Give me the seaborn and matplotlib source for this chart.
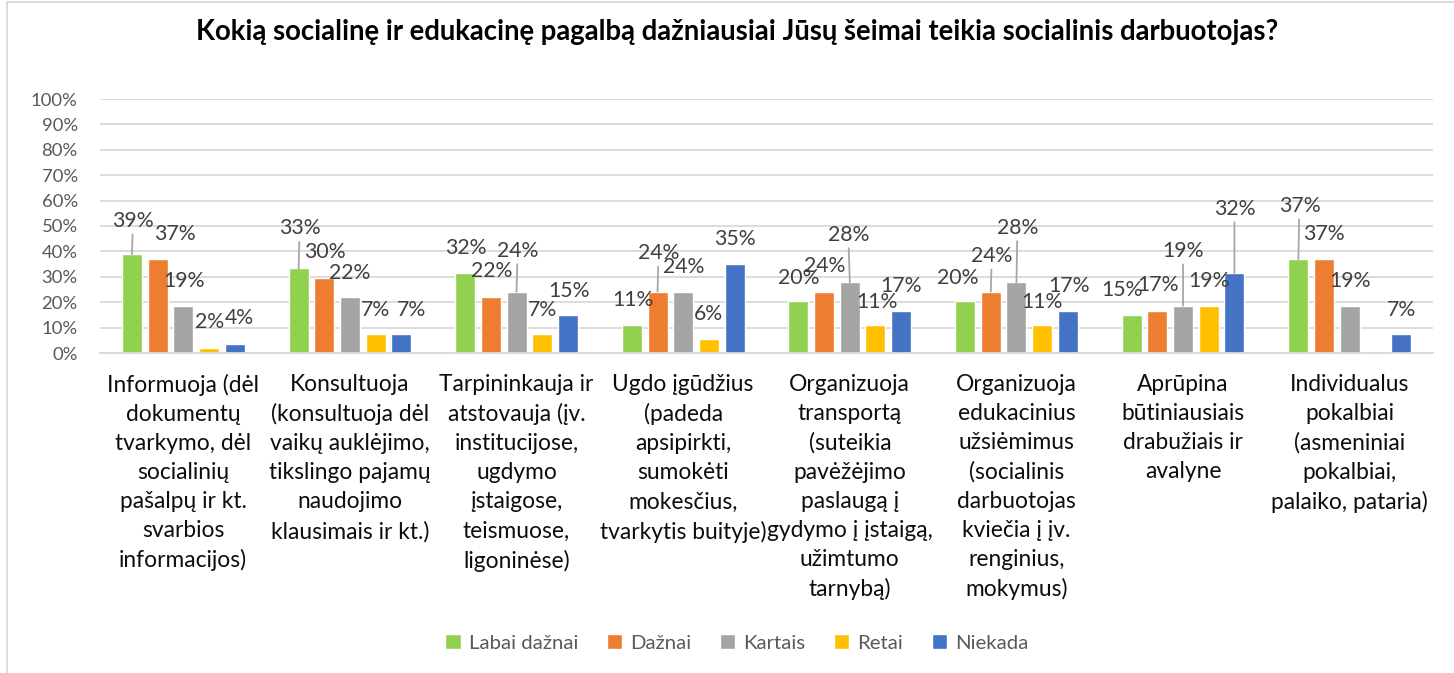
import numpy as np
import pandas as pd
import matplotlib
matplotlib.use("Agg")
import matplotlib.pyplot as plt
import seaborn as sns

# ============================================================================
# DATA
# ============================================================================

categories = [
    "Informuoja (dėl\ndokumentų\ntvarkymo, dėl\nsocialinių\npašalpų ir kt.\nsvarbios\ninformacijos)",
    "Konsultuoja\n(konsultuoja dėl\nvaikų auklėjimo,\ntikslingo pajamų\nnaudojimo\nklausimais ir kt.)",
    "Tarpininkauja ir\natstovauja (įv.\ninstitucijose,\nugdymo\nįstaigose,\nteismuose,\nligoninėse)",
    "Ugdo įgūdžius\n(padeda\napsipirkti,\nsumokėti\nmokesčius,\ntvarkytis buityje)",
    "Organizuoja\ntransportą\n(suteikia\npavėžėjimo\npaslaugą į\ngydymo į įstaigą,\nužimtumo\ntarnybą)",
    "Organizuoja\nedukacinius\nužsiėmimus\n(socialinis\ndarbuotojas\nkviečia į įv.\nrenginius,\nmokymus)",
    "Aprūpina\nbūtiniausiais\ndrabužiais ir\navalyne",
    "Individualus\npokalbiai\n(asmeniniai\npokalbiai,\npalaiko, pataria)",
]

series = ["Labai dažnai", "Dažnai", "Kartais", "Retai", "Niekada"]

labai_daznai = [38.9, 33.3, 31.5, 11.1, 20.4, 20.4, 14.8, 37.0]
daznai = [37.0, 29.6, 22.2, 24.1, 24.1, 24.1, 16.7, 37.0]
kartais = [18.6, 22.2, 24.1, 24.1, 27.8, 27.8, 18.6, 18.6]
retai = [1.9, 7.4, 7.4, 5.6, 11.1, 11.1, 18.6, 0.0]
niekada = [3.7, 7.4, 14.8, 35.2, 16.7, 16.7, 31.5, 7.4]

colors = ["#92D050", "#ED7D31", "#A5A5A5", "#FFC000", "#4472C4"]

# label offsets in pixels (dx, up) per category, per series
label_offsets = [
    [(1, 33), (17, 25.5), (1, 25), (1, 26.5), (5, 25.5)],
    [(1, 40), (1, 26), (0, 24), (0, 24), (10, 24)],
    [(1, 25), (1, 25.5), (1, 41), (0, 24.5), (1, 24.5)],
    [(1, 25), (1, 38.5), (0, 25), (0, 24.5), (0, 24.5)],
    [(0, 23), (1, 25.5), (-1.5, 47.5), (1, 22.5), (0, 24.5)],
    [(-7.5, 23), (1, 35.5), (1, 54.5), (0, 22.5), (1, 24.5)],
    [(-10, 25.5), (1, 25.5), (0, 54.5), (0, 25), (0, 64)],
    [(1, 53), (0, 25), (0, 24.5), (0, 0), (0, 24.5)],
]

values = [labai_daznai, daznai, kartais, retai, niekada]

df = pd.DataFrame({
    "category": np.tile(categories, len(series)),
    "series": np.repeat(series, len(categories)),
    "value": np.concatenate(values),
})

# ============================================================================
# STYLE
# ============================================================================

sns.set_theme(style="white")
plt.rcParams["font.family"] = ["Lato", "DejaVu Sans"]

fig = plt.figure(figsize=(14.54, 6.73), dpi=100)
ax = fig.add_axes([100 / 1454, 1 - 353 / 673, 1333 / 1454, 254 / 673])

sns.barplot(
    data=df,
    x="category",
    y="value",
    hue="series",
    hue_order=series,
    palette=colors,
    width=0.77,
    gap=0.22,
    saturation=1,
    errorbar=None,
    legend=True,
    ax=ax,
)

# ============================================================================
# AXES
# ============================================================================

ax.set_ylim(0, 100)
ax.set_yticks(np.arange(0, 101, 10))
ax.set_yticklabels([f"{t}%" for t in range(0, 101, 10)],
                   fontsize=13.3, color="#595959")
ax.tick_params(axis="y", length=0, pad=16)
ax.tick_params(axis="x", length=0, pad=15)
for lab in ax.get_xticklabels():
    lab.set_fontsize(16.4)
    lab.set_color("#0D0D0D")
    lab.set_linespacing(1.47)

ax.grid(axis="y", color="#D9D9D9", linewidth=1.3)
ax.set_axisbelow(True)
for s in ["top", "right", "left"]:
    ax.spines[s].set_visible(False)
ax.spines["bottom"].set_color("#D9D9D9")
ax.spines["bottom"].set_linewidth(1.3)
ax.set_xlabel("")
ax.set_ylabel("")

# ============================================================================
# DATA LABELS
# ============================================================================

for j, cont in enumerate(ax.containers):
    for i, bar in enumerate(cont):
        v = values[j][i]
        if v == 0:
            continue
        dx, up = label_offsets[i][j]
        x = bar.get_x() + bar.get_width() / 2
        y = bar.get_height()
        arrow = None
        if up > 30:
            arrow = dict(arrowstyle="-", color="#A6A6A6", lw=1.3,
                         shrinkA=0, shrinkB=0)
        ax.annotate(
            f"{v:.0f}%",
            xy=(x, y),
            xytext=(dx, up),
            textcoords="offset pixels",
            ha="center",
            va="center",
            fontsize=15.3,
            color="#404040",
            arrowprops=arrow,
        )

# ============================================================================
# LEGEND / TITLE / BORDER
# ============================================================================

handles, labels = ax.get_legend_handles_labels()
ax.get_legend().remove()
fig.legend(
    handles,
    labels,
    loc="center",
    bbox_to_anchor=(737 / 1454, 1 - 643 / 673),
    ncol=5,
    frameon=False,
    fontsize=14.7,
    labelcolor="#595959",
    handlelength=0.75,
    handleheight=0.75,
    handletextpad=0.4,
    columnspacing=1.4,
)

fig.text(737 / 1454, 1 - 32 / 673,
         "Kokią socialinę ir edukacinę pagalbą dažniausiai Jūsų šeimai teikia socialinis darbuotojas?",
         ha="center", va="center", fontsize=19.8, fontweight="bold", color="#000000")

fig.add_artist(plt.Line2D([7 / 1454, 7 / 1454], [0, 1 - 2 / 673],
                          color="#D9D9D9", lw=1.3, transform=fig.transFigure))
fig.add_artist(plt.Line2D([7 / 1454, 1], [1 - 2 / 673, 1 - 2 / 673],
                          color="#D9D9D9", lw=1.3, transform=fig.transFigure))

plt.savefig("out.png", dpi=100)
